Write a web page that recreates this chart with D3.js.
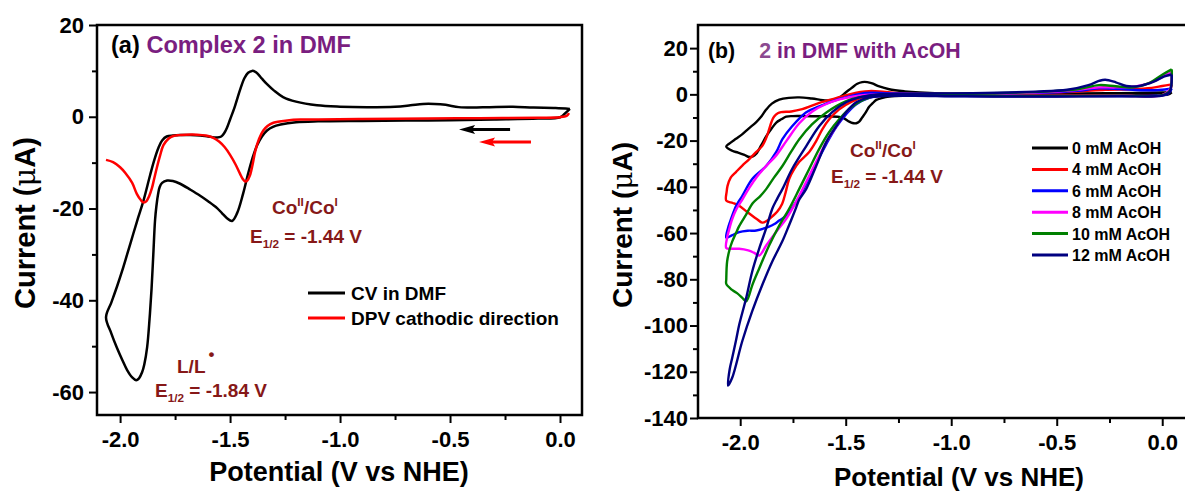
<!DOCTYPE html>
<html>
<head>
<meta charset="utf-8">
<script src="https://cdn.jsdelivr.net/npm/d3@7"></script>
<style>
  html, body { margin: 0; padding: 0; background: #ffffff; }
  svg { display: block; font-family: "Liberation Sans", Arial, sans-serif; font-weight: bold; }
</style>
</head>
<body>
<svg id="fig" width="1185" height="491"></svg>
<script>
// ---------- shared tick values ----------
const potTicks = [-2.0, -1.5, -1.0, -0.5, 0.0];
const potMinor = [-1.75, -1.25, -0.75, -0.25];
const curTicksA = [20, 0, -20, -40, -60];
const curMinorA = [10, -10, -30, -50];
const curTicksB = [20, 0, -20, -40, -60, -80, -100, -120, -140];
const curMinorB = [10, -10, -30, -50, -70, -90, -110, -130];

// ---------- panel (a): complex 2 in DMF  [potential V, current uA] ----------
const cvDmf = [
  [0.045, 1.7], [0.02, 0.6], [0.0, -0.1], [-0.1, -0.4], [-0.3, -0.6], [-0.6, -0.8], [-0.9, -0.9],
  [-1.1, -1.0], [-1.2, -1.2], [-1.27, -1.7], [-1.305, -2.2], [-1.332, -3.0], [-1.355, -4.3],
  [-1.377, -6.2], [-1.398, -9.0], [-1.418, -12.4], [-1.441, -16.8], [-1.468, -21.0], [-1.491, -22.7],
  [-1.514, -22.1], [-1.537, -21.0], [-1.559, -19.9], [-1.6, -18.4], [-1.636, -17.2], [-1.68, -15.9],
  [-1.727, -14.6], [-1.76, -14.0], [-1.786, -13.9], [-1.809, -14.4], [-1.82, -15.3], [-1.827, -16.8],
  [-1.835, -19.5], [-1.841, -22.5], [-1.849, -30.0], [-1.857, -37.5], [-1.866, -44.0], [-1.877, -50.2],
  [-1.89, -54.0], [-1.9, -55.7], [-1.914, -57.0], [-1.927, -57.4], [-1.945, -56.8], [-1.968, -55.2],
  [-1.99, -53.0], [-2.014, -50.4], [-2.04, -47.2], [-2.064, -43.7],
  [-2.04, -40.5], [-2.014, -37.0], [-1.99, -33.5], [-1.968, -30.0], [-1.94, -25.5], [-1.918, -22.0],
  [-1.895, -18.5], [-1.864, -12.8], [-1.845, -9.5], [-1.826, -6.8], [-1.808, -5.1], [-1.788, -4.3],
  [-1.76, -4.1], [-1.727, -4.0], [-1.68, -4.0], [-1.636, -4.1], [-1.6, -4.3], [-1.559, -4.5],
  [-1.54, -4.3], [-1.527, -3.6], [-1.514, -2.4], [-1.5, -0.6], [-1.48, 2.0], [-1.455, 5.8],
  [-1.435, 8.4], [-1.418, 9.6], [-1.4, 10.0], [-1.385, 9.8], [-1.373, 9.3], [-1.355, 8.3],
  [-1.332, 7.1], [-1.3, 5.7], [-1.259, 4.3], [-1.2, 3.3], [-1.105, 2.5], [-1.0, 2.2], [-0.877, 2.1],
  [-0.75, 2.2], [-0.68, 2.5], [-0.623, 2.8], [-0.57, 2.8], [-0.52, 2.6], [-0.46, 2.1], [-0.4, 2.0],
  [-0.32, 2.1], [-0.214, 2.2], [-0.12, 2.0], [-0.02, 1.9], [0.045, 1.7]
];

const dpvCathodic = [
  [0.041, 0.8], [0.03, 0.2], [0.0, -0.1], [-0.1, -0.2], [-0.364, -0.3], [-0.6, -0.4], [-0.9, -0.5],
  [-1.1, -0.6], [-1.18, -0.6], [-1.24, -0.8], [-1.303, -1.3], [-1.33, -2.0], [-1.349, -3.0],
  [-1.368, -4.8], [-1.386, -7.6], [-1.398, -10.5], [-1.41, -12.8], [-1.422, -13.9], [-1.432, -14.1],
  [-1.443, -13.5], [-1.455, -12.4], [-1.475, -10.4], [-1.5, -8.3], [-1.525, -6.6], [-1.55, -5.4],
  [-1.576, -4.6], [-1.61, -4.1], [-1.65, -3.9], [-1.7, -3.9], [-1.735, -4.0], [-1.758, -4.2],
  [-1.78, -4.8], [-1.803, -6.2], [-1.818, -8.4], [-1.833, -11.1], [-1.845, -13.5], [-1.855, -15.5],
  [-1.868, -17.3], [-1.88, -18.4], [-1.892, -18.7], [-1.905, -18.2], [-1.924, -16.8], [-1.945, -14.4],
  [-1.977, -12.2], [-2.0, -11.0], [-2.032, -9.9], [-2.064, -9.4]
];

// sweep direction arrows: [from, to] as [potential, current]
const arrowCv  = [[-0.227, -2.8], [-0.459, -2.8]];
const arrowDpv = [[-0.132, -5.5], [-0.368, -5.5]];

const legendA = ["CV in DMF", "DPV cathodic direction"];
const colorsA = ["#000000", "#ff0000"];

// ---------- panel (b): 2 in DMF with AcOH ----------
const acoh0 = [
  [0.045, 0.9], [0.03, 0.0], [0.0, -0.3], [-0.2, -0.4], [-0.5, -0.5], [-0.8, -0.5], [-1.0, -0.4],
  [-1.2, -0.6], [-1.294, -0.9], [-1.33, -1.6], [-1.355, -2.4], [-1.372, -3.8], [-1.389, -5.4],
  [-1.405, -7.8], [-1.422, -10.0], [-1.436, -11.8], [-1.45, -12.5], [-1.468, -12.4], [-1.483, -11.8],
  [-1.51, -10.3], [-1.531, -9.8], [-1.58, -9.5], [-1.64, -9.5], [-1.7, -9.4], [-1.75, -9.4],
  [-1.782, -9.6], [-1.805, -10.8], [-1.829, -12.2], [-1.853, -15.0], [-1.877, -18.2], [-1.9, -22.0],
  [-1.924, -25.7], [-1.94, -26.8], [-1.957, -27.1], [-1.98, -26.2], [-2.01, -25.2], [-2.038, -24.4],
  [-2.066, -22.6],
  [-2.05, -21.2], [-2.02, -19.2], [-1.991, -17.3], [-1.96, -14.8], [-1.924, -12.0], [-1.9, -9.6],
  [-1.877, -6.6], [-1.85, -4.0], [-1.815, -2.3], [-1.77, -1.5], [-1.72, -1.3], [-1.66, -1.8],
  [-1.592, -2.6], [-1.56, -2.4], [-1.531, -1.4], [-1.5, 0.8], [-1.469, 3.0], [-1.445, 4.6],
  [-1.422, 5.3], [-1.398, 5.3], [-1.374, 4.7], [-1.341, 3.4], [-1.294, 2.2], [-1.22, 1.3],
  [-1.15, 0.8], [-1.0, 0.3], [-0.7, 0.3], [-0.4, 0.4], [-0.2, 0.5], [0.0, 0.8], [0.045, 0.9]
];

const acoh4 = [
  [0.045, 4.3], [0.035, 1.5], [0.0, -0.3], [-0.2, -0.5], [-0.5, -0.6], [-0.8, -0.6], [-1.0, -0.5],
  [-1.2, -0.4], [-1.3, -0.3], [-1.341, -0.4], [-1.403, -1.0], [-1.469, -3.0], [-1.531, -6.5],
  [-1.578, -10.8], [-1.611, -15.1], [-1.64, -20.2], [-1.673, -24.9], [-1.72, -29.2], [-1.745, -32.5],
  [-1.768, -36.6], [-1.785, -42.5], [-1.801, -47.3], [-1.825, -50.8], [-1.848, -52.8], [-1.875, -54.8],
  [-1.896, -55.5], [-1.92, -54.0], [-1.943, -52.5], [-1.975, -50.3], [-2.005, -48.2], [-2.035, -47.0],
  [-2.066, -46.0],
  [-2.064, -42.0], [-2.06, -39.6], [-2.045, -36.0], [-2.019, -33.5], [-1.99, -30.8], [-1.957, -28.0],
  [-1.925, -25.0], [-1.896, -22.4], [-1.875, -18.5], [-1.862, -14.8], [-1.85, -11.5], [-1.839, -9.6],
  [-1.822, -8.2], [-1.806, -7.7], [-1.758, -7.4], [-1.706, -6.4], [-1.66, -4.9], [-1.611, -3.3],
  [-1.55, -1.7], [-1.483, 0.0], [-1.43, 1.0], [-1.39, 1.4], [-1.341, 1.3], [-1.246, 0.5],
  [-1.1, 0.1], [-0.9, 0.1], [-0.6, 0.6], [-0.4, 1.2], [-0.27, 2.0], [-0.15, 2.2], [-0.05, 2.8],
  [0.0, 3.6], [0.045, 4.3]
];

const acoh6 = [
  [0.045, 2.5], [0.03, 0.4], [0.0, -0.4], [-0.2, -0.7], [-0.5, -0.8], [-0.8, -0.8], [-1.0, -0.7],
  [-1.2, -0.5], [-1.318, -0.5], [-1.389, -1.5], [-1.45, -4.3], [-1.498, -8.6], [-1.545, -14.2],
  [-1.592, -21.5], [-1.64, -30.0], [-1.687, -38.7], [-1.735, -46.5], [-1.782, -52.5], [-1.815, -54.6],
  [-1.84, -56.2], [-1.863, -57.2], [-1.924, -58.9], [-1.965, -59.0], [-2.005, -59.6], [-2.04, -61.0],
  [-2.066, -62.0],
  [-2.055, -57.0], [-2.043, -53.8], [-2.019, -48.2], [-1.99, -43.9], [-1.943, -36.6], [-1.877, -31.0],
  [-1.829, -24.9], [-1.8, -19.4], [-1.754, -13.8], [-1.687, -7.7], [-1.626, -5.2], [-1.564, -3.0],
  [-1.483, -0.9], [-1.403, 0.6], [-1.3, 0.5], [-1.1, 0.2], [-0.8, 0.3], [-0.5, 0.9], [-0.4, 1.5],
  [-0.3, 2.6], [-0.2, 2.3], [-0.1, 1.8], [0.0, 2.0], [0.045, 2.5]
];

const acoh8 = [
  [0.045, 9.5], [0.035, 2.0], [0.0, -0.3], [-0.2, -0.6], [-0.5, -0.7], [-0.8, -0.7], [-1.0, -0.6],
  [-1.2, -0.4], [-1.365, -0.9], [-1.436, -3.0], [-1.498, -7.7], [-1.545, -13.8], [-1.592, -20.6],
  [-1.64, -29.2], [-1.687, -37.8], [-1.735, -46.5], [-1.782, -53.8], [-1.829, -59.4], [-1.877, -65.4],
  [-1.91, -69.7], [-1.935, -68.5], [-1.962, -67.5], [-2.005, -66.8], [-2.04, -66.8], [-2.066, -66.5],
  [-2.062, -62.0], [-2.055, -59.4], [-2.04, -54.5], [-2.02, -50.0], [-1.99, -45.5], [-1.957, -40.5],
  [-1.92, -35.5], [-1.877, -31.0], [-1.83, -26.5], [-1.78, -20.0], [-1.72, -12.5], [-1.66, -7.5],
  [-1.6, -4.5], [-1.53, -2.2], [-1.43, -0.5], [-1.3, 0.2], [-1.1, 0.2], [-0.8, 0.4], [-0.55, 1.0],
  [-0.4, 2.0], [-0.3, 3.0], [-0.22, 3.0], [-0.12, 3.5], [-0.03, 6.0], [0.02, 8.5], [0.045, 9.5]
];

const acoh10 = [
  [0.045, 10.8], [0.035, 1.5], [0.0, -0.3], [-0.2, -0.6], [-0.5, -0.7], [-0.8, -0.7], [-1.0, -0.6],
  [-1.2, -0.4], [-1.341, -0.4], [-1.412, -2.2], [-1.474, -5.6], [-1.531, -10.8], [-1.578, -16.3],
  [-1.626, -23.7], [-1.673, -32.3], [-1.72, -40.9], [-1.768, -49.5], [-1.815, -56.8], [-1.863, -65.4],
  [-1.91, -75.3], [-1.943, -82.6], [-1.962, -88.0], [-1.972, -89.5], [-1.99, -88.0], [-2.015, -86.0],
  [-2.04, -84.5], [-2.066, -82.0],
  [-2.066, -80.0], [-2.062, -72.3], [-2.05, -67.0], [-2.038, -63.7], [-2.02, -60.0], [-2.005, -57.0],
  [-1.972, -52.0], [-1.94, -47.0], [-1.905, -44.0], [-1.877, -41.0], [-1.84, -36.0], [-1.8, -31.0],
  [-1.76, -25.0], [-1.72, -19.4], [-1.66, -13.0], [-1.59, -7.7], [-1.5, -3.0], [-1.42, -1.0],
  [-1.3, 0.0], [-1.1, 0.2], [-0.8, 0.5], [-0.55, 1.2], [-0.4, 2.2], [-0.3, 4.0], [-0.22, 3.5],
  [-0.14, 3.0], [-0.06, 5.0], [0.0, 8.5], [0.045, 10.8]
];

const acoh12 = [
  [0.045, 8.6], [0.035, 1.0], [0.0, -0.5], [-0.2, -0.8], [-0.5, -0.9], [-0.8, -0.9], [-1.0, -0.8],
  [-1.2, -0.6], [-1.389, -1.3], [-1.45, -3.4], [-1.498, -7.7], [-1.545, -13.8], [-1.592, -20.6],
  [-1.64, -31.0], [-1.687, -40.9], [-1.72, -45.5], [-1.735, -49.0], [-1.768, -56.5], [-1.801, -63.7],
  [-1.848, -72.3], [-1.896, -82.6], [-1.943, -93.8], [-1.99, -106.7], [-2.038, -122.6], [-2.058, -126.0],
  [-2.05, -119.0], [-2.038, -114.0], [-2.02, -106.5], [-2.005, -99.8], [-1.972, -88.2], [-1.943, -76.6],
  [-1.91, -66.7], [-1.877, -58.0], [-1.848, -49.5], [-1.825, -45.2], [-1.8, -41.0], [-1.754, -32.3],
  [-1.687, -22.4], [-1.626, -13.8], [-1.564, -7.7], [-1.498, -3.4], [-1.436, -1.3], [-1.355, 0.0],
  [-1.2, 0.3], [-0.9, 0.5], [-0.6, 1.2], [-0.45, 2.0], [-0.35, 4.0], [-0.3, 5.8], [-0.27, 6.3],
  [-0.22, 5.2], [-0.17, 3.6], [-0.1, 3.8], [-0.04, 5.5], [0.01, 7.8], [0.045, 8.6]
];

const acohSeries = [acoh0, acoh4, acoh6, acoh8, acoh10, acoh12];
const acohLabels = ["0 mM AcOH", "4 mM AcOH", "6 mM AcOH", "8 mM AcOH", "10 mM AcOH", "12 mM AcOH"];
const acohColors = ["#000000", "#ff0000", "#0000ff", "#ff00ff", "#008000", "#000080"];

// ---------- drawing ----------
const svg = d3.select("#fig");
const FONT = '"Liberation Sans", Arial, sans-serif';
const MAROON = "#861818";
const PURPLE = "#7a1e80";

const xA = d3.scaleLinear().domain([-2.105, 0.1]).range([97, 582]);
const yA = d3.scaleLinear().domain([-65, 20]).range([415, 25]);
const xB = d3.scaleLinear().domain([-2.2, 0.115]).range([698, 1186.5]);
const yB = d3.scaleLinear().domain([-140, 30]).range([418, 25]);

function styleAxis(g) {
  g.select(".domain").remove();
  g.selectAll("line").attr("stroke", "#000").attr("stroke-width", 2);
  g.selectAll("text").attr("fill", "#000").attr("font-size", 22)
    .attr("font-family", FONT).attr("font-weight", "bold");
}

function drawAxes(x, y, yMajor, yMinor, yPad) {
  const [xl, xr] = x.range();
  const [yb, yt] = y.range();
  const g = svg.append("g");
  g.append("g").attr("transform", `translate(0,${yb})`)
    .call(d3.axisBottom(x).tickValues(potMinor).tickSize(5).tickFormat(""))
    .call(styleAxis);
  g.append("g").attr("transform", `translate(0,${yb})`)
    .call(d3.axisBottom(x).tickValues(potTicks).tickSize(8).tickPadding(8).tickFormat(d => d.toFixed(1)))
    .call(styleAxis);
  g.append("g").attr("transform", `translate(${xl},0)`)
    .call(d3.axisLeft(y).tickValues(yMinor).tickSize(5).tickFormat(""))
    .call(styleAxis);
  g.append("g").attr("transform", `translate(${xl},0)`)
    .call(d3.axisLeft(y).tickValues(yMajor).tickSize(8).tickPadding(yPad).tickFormat(d => String(d)))
    .call(styleAxis);
  g.append("rect").attr("x", xl).attr("y", yt).attr("width", xr - xl).attr("height", yb - yt)
    .attr("fill", "none").attr("stroke", "#000").attr("stroke-width", 2.5);
}

function axisTitles(cx, baseX, cy, baseY, size) {
  svg.append("text").attr("x", cx).attr("y", baseX).attr("text-anchor", "middle")
    .attr("font-size", size).text("Potential (V vs NHE)");
  const t = svg.append("text").attr("transform", `translate(${baseY},${cy}) rotate(-90)`)
    .attr("text-anchor", "middle").attr("font-size", size + 2);
  t.append("tspan").text("Current (");
  t.append("tspan").attr("font-weight", "normal").attr("font-family", '"DejaVu Serif", serif').text("\u03bc");
  t.append("tspan").text("A)");
}

// Co(II)/Co(I) label with its half-wave potential below
function redoxLabel(x1, y1, x2, y2, pot, size) {
  const a = svg.append("text").attr("x", x1).attr("y", y1).attr("fill", MAROON).attr("font-size", size);
  a.append("tspan").text("Co");
  a.append("tspan").attr("font-size", size * 0.62).attr("dy", -size * 0.42).text("II");
  a.append("tspan").attr("dy", size * 0.42).text("/Co");
  a.append("tspan").attr("font-size", size * 0.62).attr("dy", -size * 0.42).text("I");
  halfWave(x2, y2, pot, size);
}
function halfWave(x, y, pot, size) {
  const b = svg.append("text").attr("x", x).attr("y", y).attr("fill", MAROON).attr("font-size", size);
  b.append("tspan").text("E");
  b.append("tspan").attr("font-size", size * 0.62).attr("dy", size * 0.28).text("1/2");
  b.append("tspan").attr("dy", -size * 0.28).text(` = ${pot} V`);
}

const smooth = d3.curveCatmullRom.alpha(0.5);

// ----- panel (a) -----
drawAxes(xA, yA, curTicksA, curMinorA, 5);
axisTitles(339, 481, 223, 35, 27);

const lineA = d3.line().x(d => xA(d[0])).y(d => yA(d[1])).curve(smooth);
[cvDmf, dpvCathodic].forEach((s, i) => {
  svg.append("path").attr("d", lineA(s)).attr("fill", "none")
    .attr("stroke", colorsA[i]).attr("stroke-width", 2.5).attr("stroke-linejoin", "round");
});

[arrowCv, arrowDpv].forEach((a, i) => {
  const x0 = xA(a[0][0]), x1 = xA(a[1][0]), yy = yA(a[0][1]);
  svg.append("line").attr("x1", x0).attr("x2", x1 + 10).attr("y1", yy).attr("y2", yy)
    .attr("stroke", colorsA[i]).attr("stroke-width", 3);
  svg.append("path").attr("d", `M${x1},${yy}L${x1 + 16},${yy - 4.5}L${x1 + 13},${yy}L${x1 + 16},${yy + 4.5}Z`)
    .attr("fill", colorsA[i]);
});

svg.append("text").attr("x", 111).attr("y", 53).attr("font-size", 23.6)
  .call(t => { t.append("tspan").attr("fill", "#000").text("(a) ");
               t.append("tspan").attr("fill", PURPLE).text("Complex 2 in DMF"); });

redoxLabel(272, 214, 250, 243, "-1.44", 19);
const ll = svg.append("text").attr("x", 177).attr("y", 373).attr("fill", MAROON).attr("font-size", 19);
ll.append("tspan").text("L/L");
ll.append("tspan").attr("font-size", 17).attr("dy", -13).attr("dx", 3).text("\u2022");
halfWave(155, 397, "-1.84", 19);

legendA.forEach((lab, i) => {
  const yy = 293 + i * 25;
  svg.append("line").attr("x1", 308).attr("x2", 345).attr("y1", yy).attr("y2", yy)
    .attr("stroke", colorsA[i]).attr("stroke-width", 3);
  svg.append("text").attr("x", 351).attr("y", yy + 7).attr("font-size", 19).text(lab);
});

// ----- panel (b) -----
drawAxes(xB, yB, curTicksB, curMinorB, 2);
axisTitles(959, 486, 225, 632, 26);

const lineB = d3.line().x(d => xB(d[0])).y(d => yB(d[1])).curve(smooth);
acohSeries.forEach((s, i) => {
  svg.append("path").attr("d", lineB(s)).attr("fill", "none")
    .attr("stroke", acohColors[i]).attr("stroke-width", 2.4).attr("stroke-linejoin", "round");
});

svg.append("text").attr("x", 708).attr("y", 58).attr("font-size", 21.3)
  .call(t => { t.append("tspan").attr("fill", "#000").text("(b)");
               t.append("tspan").attr("fill", "#8c4a90").attr("dx", 24).text("2");
               t.append("tspan").attr("fill", PURPLE).text(" in DMF with AcOH"); });

redoxLabel(850, 157, 831, 183, "-1.44", 19);

acohLabels.forEach((lab, i) => {
  const yy = 148 + i * 21.4;
  svg.append("line").attr("x1", 1032).attr("x2", 1068).attr("y1", yy).attr("y2", yy)
    .attr("stroke", acohColors[i]).attr("stroke-width", 3);
  svg.append("text").attr("x", 1072).attr("y", yy + 6).attr("font-size", 16).text(lab);
});
</script>
</body>
</html>
